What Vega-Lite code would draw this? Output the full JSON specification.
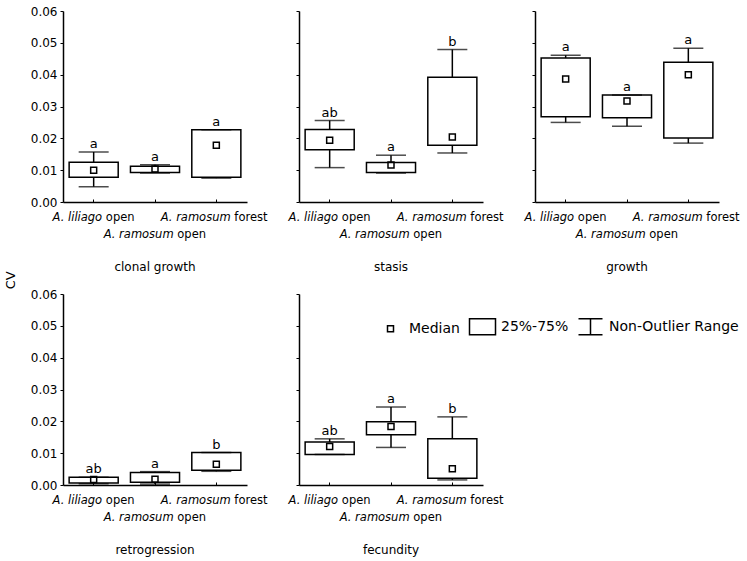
{
  "$schema": "https://vega.github.io/schema/vega-lite/v6.json",
  "background": "white",
  "padding": 5,
  "title": {"text": "CV", "orient": "left", "anchor": "middle", "fontSize": 13, "fontWeight": "normal", "font": "DejaVu Sans", "color": "black", "offset": 12},
  "datasets": {
    "box": [
      {"panel": "clonal growth", "group": "A. liliago open", "lo": 0.0048, "q1": 0.0078, "med": 0.0100, "q3": 0.0125, "hi": 0.0157, "letter": "a"},
      {"panel": "clonal growth", "group": "A. ramosum open", "lo": 0.0091, "q1": 0.0093, "med": 0.0104, "q3": 0.0112, "hi": 0.0117, "letter": "a"},
      {"panel": "clonal growth", "group": "A. ramosum forest", "lo": 0.0075, "q1": 0.0078, "med": 0.0178, "q3": 0.0227, "hi": 0.0227, "letter": "a"},
      {"panel": "stasis", "group": "A. liliago open", "lo": 0.0108, "q1": 0.0164, "med": 0.0194, "q3": 0.0228, "hi": 0.0256, "letter": "ab"},
      {"panel": "stasis", "group": "A. ramosum open", "lo": 0.0091, "q1": 0.0093, "med": 0.0116, "q3": 0.0124, "hi": 0.0147, "letter": "a"},
      {"panel": "stasis", "group": "A. ramosum forest", "lo": 0.0154, "q1": 0.0178, "med": 0.0204, "q3": 0.0392, "hi": 0.0479, "letter": "b"},
      {"panel": "growth", "group": "A. liliago open", "lo": 0.0250, "q1": 0.0268, "med": 0.0386, "q3": 0.0452, "hi": 0.0461, "letter": "a"},
      {"panel": "growth", "group": "A. ramosum open", "lo": 0.0238, "q1": 0.0265, "med": 0.0317, "q3": 0.0336, "hi": 0.0336, "letter": "a"},
      {"panel": "growth", "group": "A. ramosum forest", "lo": 0.0185, "q1": 0.0201, "med": 0.0400, "q3": 0.0439, "hi": 0.0483, "letter": "a"},
      {"panel": "retrogression", "group": "A. liliago open", "lo": 0.0004, "q1": 0.0006, "med": 0.0017, "q3": 0.0024, "hi": 0.0024, "letter": "ab"},
      {"panel": "retrogression", "group": "A. ramosum open", "lo": 0.0003, "q1": 0.0009, "med": 0.0018, "q3": 0.0039, "hi": 0.0042, "letter": "a"},
      {"panel": "retrogression", "group": "A. ramosum forest", "lo": 0.0043, "q1": 0.0046, "med": 0.0065, "q3": 0.0102, "hi": 0.0102, "letter": "b"},
      {"panel": "fecundity", "group": "A. liliago open", "lo": 0.0096, "q1": 0.0096, "med": 0.0121, "q3": 0.0135, "hi": 0.0145, "letter": "ab"},
      {"panel": "fecundity", "group": "A. ramosum open", "lo": 0.0118, "q1": 0.0158, "med": 0.0184, "q3": 0.0199, "hi": 0.0245, "letter": "a"},
      {"panel": "fecundity", "group": "A. ramosum forest", "lo": 0.0016, "q1": 0.0021, "med": 0.0051, "q3": 0.0145, "hi": 0.0214, "letter": "b"}
    ]
  },
  "data": {"name": "box"},
  "columns": 3,
  "bounds": "flush",
  "spacing": {"row": 92, "column": 52},
  "concat": [
    {
      "width": 184, "height": 191,
      "title": {"text": "clonal growth", "orient": "bottom", "offset": 22, "frame": "group"},
      "transform": [{"filter": "datum.panel == 'clonal growth'"}],
      "resolve": {"axis": {"x": "independent"}},
      "layer": [
        {"mark": {"type": "rule", "color": "black", "strokeWidth": 1.5},
         "encoding": {
           "x": {"field": "group", "type": "nominal", "sort": ["A. liliago open", "A. ramosum open", "A. ramosum forest"], "scale": {"paddingInner": 0.2, "paddingOuter": 0.1},
             "axis": {"orient": "bottom", "labelAngle": 0, "title": null, "labelFontStyle": "italic", "labelAlign": "right", "labelBaseline": "top", "labelLineHeight": 17, "labelPadding": 12, "tickSize": -3,
               "labelExpr": "datum.value == 'A. liliago open' ? 'A. liliago' : datum.value == 'A. ramosum open' ? ['', 'A. ramosum'] : 'A. ramosum'",
               "labelOffset": {"condition": [{"test": "datum.value == 'A. liliago open'", "value": 8.5}, {"test": "datum.value == 'A. ramosum open'", "value": 18.6}], "value": 14.3}}},
           "y": {"field": "lo", "type": "quantitative", "scale": {"domain": [0, 0.06], "nice": false}, "axis": {"title": null, "values": [0, 0.01, 0.02, 0.03, 0.04, 0.05, 0.06], "format": ".2f", "labels": true}},
           "y2": {"field": "hi"}}},
        {"mark": {"type": "bar", "fill": "white", "stroke": "black", "strokeWidth": 1.5},
         "encoding": {
           "x": {"field": "group", "type": "nominal", "sort": ["A. liliago open", "A. ramosum open", "A. ramosum forest"],
             "axis": {"orient": "bottom", "labelAngle": 0, "title": null, "domain": false, "ticks": false, "labelAlign": "left", "labelBaseline": "top", "labelLineHeight": 17, "labelPadding": 9,
               "labelExpr": "datum.value == 'A. liliago open' ? 'open' : datum.value == 'A. ramosum open' ? ['', 'open'] : 'forest'",
               "labelOffset": {"condition": [{"test": "datum.value == 'A. liliago open'", "value": 12.2}, {"test": "datum.value == 'A. ramosum open'", "value": 22.3}], "value": 18}}},
           "y": {"field": "q1", "type": "quantitative", "axis": {"title": null, "values": [0, 0.01, 0.02, 0.03, 0.04, 0.05, 0.06], "format": ".2f", "labels": true}},
           "y2": {"field": "q3"}}},
        {"mark": {"type": "tick", "color": "black", "size": 30, "thickness": 1.5},
         "encoding": {"x": {"field": "group", "type": "nominal", "sort": ["A. liliago open", "A. ramosum open", "A. ramosum forest"], "axis": null}, "y": {"field": "lo", "type": "quantitative", "axis": {"title": null, "values": [0, 0.01, 0.02, 0.03, 0.04, 0.05, 0.06], "format": ".2f", "labels": true}}}},
        {"mark": {"type": "tick", "color": "black", "size": 30, "thickness": 1.5},
         "encoding": {"x": {"field": "group", "type": "nominal", "sort": ["A. liliago open", "A. ramosum open", "A. ramosum forest"], "axis": null}, "y": {"field": "hi", "type": "quantitative", "axis": {"title": null, "values": [0, 0.01, 0.02, 0.03, 0.04, 0.05, 0.06], "format": ".2f", "labels": true}}}},
        {"mark": {"type": "point", "filled": false, "stroke": "black", "strokeWidth": 1.5, "size": 625, "opacity": 1},
         "encoding": {"x": {"field": "group", "type": "nominal", "sort": ["A. liliago open", "A. ramosum open", "A. ramosum forest"], "axis": null}, "y": {"field": "med", "type": "quantitative", "axis": {"title": null, "values": [0, 0.01, 0.02, 0.03, 0.04, 0.05, 0.06], "format": ".2f", "labels": true}},
           "shape": {"datum": "Median", "scale": {"domain": ["Median", "25%-75%", "Non-Outlier Range"], "range": ["M-0.24,-0.24H0.24V0.24H-0.24Z", "M-1.04,-0.64H1.04V0.64H-1.04Z", "M-0.96,-0.64H0.96M0,-0.64V0.64M-0.96,0.64H0.96"]},
             "legend": {"orient": "none", "legendX": 314, "legendY": 302, "direction": "horizontal", "columns": 3, "title": null, "symbolSize": 625, "symbolStrokeWidth": 1.5, "symbolStrokeColor": "black", "symbolFillColor": "white", "labelFontSize": 14, "labelFont": "DejaVu Sans", "labelColor": "black", "labelOffset": 5, "columnPadding": 6, "padding": 0}}}},
        {"mark": {"type": "text", "baseline": "bottom", "dy": -1, "fontSize": 13, "font": "DejaVu Sans", "color": "black"},
         "encoding": {"x": {"field": "group", "type": "nominal", "sort": ["A. liliago open", "A. ramosum open", "A. ramosum forest"], "axis": null}, "y": {"field": "hi", "type": "quantitative", "axis": {"title": null, "values": [0, 0.01, 0.02, 0.03, 0.04, 0.05, 0.06], "format": ".2f", "labels": true}}, "text": {"field": "letter"}}}
      ]
    },
    {
      "width": 184, "height": 191,
      "title": {"text": "stasis", "orient": "bottom", "offset": 22, "frame": "group"},
      "transform": [{"filter": "datum.panel == 'stasis'"}],
      "resolve": {"axis": {"x": "independent"}},
      "layer": [
        {"mark": {"type": "rule", "color": "black", "strokeWidth": 1.5},
         "encoding": {
           "x": {"field": "group", "type": "nominal", "sort": ["A. liliago open", "A. ramosum open", "A. ramosum forest"], "scale": {"paddingInner": 0.2, "paddingOuter": 0.1},
             "axis": {"orient": "bottom", "labelAngle": 0, "title": null, "labelFontStyle": "italic", "labelAlign": "right", "labelBaseline": "top", "labelLineHeight": 17, "labelPadding": 12, "tickSize": -3,
               "labelExpr": "datum.value == 'A. liliago open' ? 'A. liliago' : datum.value == 'A. ramosum open' ? ['', 'A. ramosum'] : 'A. ramosum'",
               "labelOffset": {"condition": [{"test": "datum.value == 'A. liliago open'", "value": 8.5}, {"test": "datum.value == 'A. ramosum open'", "value": 18.6}], "value": 14.3}}},
           "y": {"field": "lo", "type": "quantitative", "scale": {"domain": [0, 0.06], "nice": false}, "axis": {"title": null, "values": [0, 0.01, 0.02, 0.03, 0.04, 0.05, 0.06], "format": ".2f", "labels": false}},
           "y2": {"field": "hi"}}},
        {"mark": {"type": "bar", "fill": "white", "stroke": "black", "strokeWidth": 1.5},
         "encoding": {
           "x": {"field": "group", "type": "nominal", "sort": ["A. liliago open", "A. ramosum open", "A. ramosum forest"],
             "axis": {"orient": "bottom", "labelAngle": 0, "title": null, "domain": false, "ticks": false, "labelAlign": "left", "labelBaseline": "top", "labelLineHeight": 17, "labelPadding": 9,
               "labelExpr": "datum.value == 'A. liliago open' ? 'open' : datum.value == 'A. ramosum open' ? ['', 'open'] : 'forest'",
               "labelOffset": {"condition": [{"test": "datum.value == 'A. liliago open'", "value": 12.2}, {"test": "datum.value == 'A. ramosum open'", "value": 22.3}], "value": 18}}},
           "y": {"field": "q1", "type": "quantitative", "axis": {"title": null, "values": [0, 0.01, 0.02, 0.03, 0.04, 0.05, 0.06], "format": ".2f", "labels": false}},
           "y2": {"field": "q3"}}},
        {"mark": {"type": "tick", "color": "black", "size": 30, "thickness": 1.5},
         "encoding": {"x": {"field": "group", "type": "nominal", "sort": ["A. liliago open", "A. ramosum open", "A. ramosum forest"], "axis": null}, "y": {"field": "lo", "type": "quantitative", "axis": {"title": null, "values": [0, 0.01, 0.02, 0.03, 0.04, 0.05, 0.06], "format": ".2f", "labels": false}}}},
        {"mark": {"type": "tick", "color": "black", "size": 30, "thickness": 1.5},
         "encoding": {"x": {"field": "group", "type": "nominal", "sort": ["A. liliago open", "A. ramosum open", "A. ramosum forest"], "axis": null}, "y": {"field": "hi", "type": "quantitative", "axis": {"title": null, "values": [0, 0.01, 0.02, 0.03, 0.04, 0.05, 0.06], "format": ".2f", "labels": false}}}},
        {"mark": {"type": "point", "filled": false, "stroke": "black", "strokeWidth": 1.5, "size": 625, "opacity": 1},
         "encoding": {"x": {"field": "group", "type": "nominal", "sort": ["A. liliago open", "A. ramosum open", "A. ramosum forest"], "axis": null}, "y": {"field": "med", "type": "quantitative", "axis": {"title": null, "values": [0, 0.01, 0.02, 0.03, 0.04, 0.05, 0.06], "format": ".2f", "labels": false}},
           "shape": {"datum": "Median"}}},
        {"mark": {"type": "text", "baseline": "bottom", "dy": -1, "fontSize": 13, "font": "DejaVu Sans", "color": "black"},
         "encoding": {"x": {"field": "group", "type": "nominal", "sort": ["A. liliago open", "A. ramosum open", "A. ramosum forest"], "axis": null}, "y": {"field": "hi", "type": "quantitative", "axis": {"title": null, "values": [0, 0.01, 0.02, 0.03, 0.04, 0.05, 0.06], "format": ".2f", "labels": false}}, "text": {"field": "letter"}}}
      ]
    },
    {
      "width": 184, "height": 191,
      "title": {"text": "growth", "orient": "bottom", "offset": 22, "frame": "group"},
      "transform": [{"filter": "datum.panel == 'growth'"}],
      "resolve": {"axis": {"x": "independent"}},
      "layer": [
        {"mark": {"type": "rule", "color": "black", "strokeWidth": 1.5},
         "encoding": {
           "x": {"field": "group", "type": "nominal", "sort": ["A. liliago open", "A. ramosum open", "A. ramosum forest"], "scale": {"paddingInner": 0.2, "paddingOuter": 0.1},
             "axis": {"orient": "bottom", "labelAngle": 0, "title": null, "labelFontStyle": "italic", "labelAlign": "right", "labelBaseline": "top", "labelLineHeight": 17, "labelPadding": 12, "tickSize": -3,
               "labelExpr": "datum.value == 'A. liliago open' ? 'A. liliago' : datum.value == 'A. ramosum open' ? ['', 'A. ramosum'] : 'A. ramosum'",
               "labelOffset": {"condition": [{"test": "datum.value == 'A. liliago open'", "value": 8.5}, {"test": "datum.value == 'A. ramosum open'", "value": 18.6}], "value": 14.3}}},
           "y": {"field": "lo", "type": "quantitative", "scale": {"domain": [0, 0.06], "nice": false}, "axis": {"title": null, "values": [0, 0.01, 0.02, 0.03, 0.04, 0.05, 0.06], "format": ".2f", "labels": false}},
           "y2": {"field": "hi"}}},
        {"mark": {"type": "bar", "fill": "white", "stroke": "black", "strokeWidth": 1.5},
         "encoding": {
           "x": {"field": "group", "type": "nominal", "sort": ["A. liliago open", "A. ramosum open", "A. ramosum forest"],
             "axis": {"orient": "bottom", "labelAngle": 0, "title": null, "domain": false, "ticks": false, "labelAlign": "left", "labelBaseline": "top", "labelLineHeight": 17, "labelPadding": 9,
               "labelExpr": "datum.value == 'A. liliago open' ? 'open' : datum.value == 'A. ramosum open' ? ['', 'open'] : 'forest'",
               "labelOffset": {"condition": [{"test": "datum.value == 'A. liliago open'", "value": 12.2}, {"test": "datum.value == 'A. ramosum open'", "value": 22.3}], "value": 18}}},
           "y": {"field": "q1", "type": "quantitative", "axis": {"title": null, "values": [0, 0.01, 0.02, 0.03, 0.04, 0.05, 0.06], "format": ".2f", "labels": false}},
           "y2": {"field": "q3"}}},
        {"mark": {"type": "tick", "color": "black", "size": 30, "thickness": 1.5},
         "encoding": {"x": {"field": "group", "type": "nominal", "sort": ["A. liliago open", "A. ramosum open", "A. ramosum forest"], "axis": null}, "y": {"field": "lo", "type": "quantitative", "axis": {"title": null, "values": [0, 0.01, 0.02, 0.03, 0.04, 0.05, 0.06], "format": ".2f", "labels": false}}}},
        {"mark": {"type": "tick", "color": "black", "size": 30, "thickness": 1.5},
         "encoding": {"x": {"field": "group", "type": "nominal", "sort": ["A. liliago open", "A. ramosum open", "A. ramosum forest"], "axis": null}, "y": {"field": "hi", "type": "quantitative", "axis": {"title": null, "values": [0, 0.01, 0.02, 0.03, 0.04, 0.05, 0.06], "format": ".2f", "labels": false}}}},
        {"mark": {"type": "point", "filled": false, "stroke": "black", "strokeWidth": 1.5, "size": 625, "opacity": 1},
         "encoding": {"x": {"field": "group", "type": "nominal", "sort": ["A. liliago open", "A. ramosum open", "A. ramosum forest"], "axis": null}, "y": {"field": "med", "type": "quantitative", "axis": {"title": null, "values": [0, 0.01, 0.02, 0.03, 0.04, 0.05, 0.06], "format": ".2f", "labels": false}},
           "shape": {"datum": "Median"}}},
        {"mark": {"type": "text", "baseline": "bottom", "dy": -1, "fontSize": 13, "font": "DejaVu Sans", "color": "black"},
         "encoding": {"x": {"field": "group", "type": "nominal", "sort": ["A. liliago open", "A. ramosum open", "A. ramosum forest"], "axis": null}, "y": {"field": "hi", "type": "quantitative", "axis": {"title": null, "values": [0, 0.01, 0.02, 0.03, 0.04, 0.05, 0.06], "format": ".2f", "labels": false}}, "text": {"field": "letter"}}}
      ]
    },
    {
      "width": 184, "height": 191,
      "title": {"text": "retrogression", "orient": "bottom", "offset": 22, "frame": "group"},
      "transform": [{"filter": "datum.panel == 'retrogression'"}],
      "resolve": {"axis": {"x": "independent"}},
      "layer": [
        {"mark": {"type": "rule", "color": "black", "strokeWidth": 1.5},
         "encoding": {
           "x": {"field": "group", "type": "nominal", "sort": ["A. liliago open", "A. ramosum open", "A. ramosum forest"], "scale": {"paddingInner": 0.2, "paddingOuter": 0.1},
             "axis": {"orient": "bottom", "labelAngle": 0, "title": null, "labelFontStyle": "italic", "labelAlign": "right", "labelBaseline": "top", "labelLineHeight": 17, "labelPadding": 12, "tickSize": -3,
               "labelExpr": "datum.value == 'A. liliago open' ? 'A. liliago' : datum.value == 'A. ramosum open' ? ['', 'A. ramosum'] : 'A. ramosum'",
               "labelOffset": {"condition": [{"test": "datum.value == 'A. liliago open'", "value": 8.5}, {"test": "datum.value == 'A. ramosum open'", "value": 18.6}], "value": 14.3}}},
           "y": {"field": "lo", "type": "quantitative", "scale": {"domain": [0, 0.06], "nice": false}, "axis": {"title": null, "values": [0, 0.01, 0.02, 0.03, 0.04, 0.05, 0.06], "format": ".2f", "labels": true}},
           "y2": {"field": "hi"}}},
        {"mark": {"type": "bar", "fill": "white", "stroke": "black", "strokeWidth": 1.5},
         "encoding": {
           "x": {"field": "group", "type": "nominal", "sort": ["A. liliago open", "A. ramosum open", "A. ramosum forest"],
             "axis": {"orient": "bottom", "labelAngle": 0, "title": null, "domain": false, "ticks": false, "labelAlign": "left", "labelBaseline": "top", "labelLineHeight": 17, "labelPadding": 9,
               "labelExpr": "datum.value == 'A. liliago open' ? 'open' : datum.value == 'A. ramosum open' ? ['', 'open'] : 'forest'",
               "labelOffset": {"condition": [{"test": "datum.value == 'A. liliago open'", "value": 12.2}, {"test": "datum.value == 'A. ramosum open'", "value": 22.3}], "value": 18}}},
           "y": {"field": "q1", "type": "quantitative", "axis": {"title": null, "values": [0, 0.01, 0.02, 0.03, 0.04, 0.05, 0.06], "format": ".2f", "labels": true}},
           "y2": {"field": "q3"}}},
        {"mark": {"type": "tick", "color": "black", "size": 30, "thickness": 1.5},
         "encoding": {"x": {"field": "group", "type": "nominal", "sort": ["A. liliago open", "A. ramosum open", "A. ramosum forest"], "axis": null}, "y": {"field": "lo", "type": "quantitative", "axis": {"title": null, "values": [0, 0.01, 0.02, 0.03, 0.04, 0.05, 0.06], "format": ".2f", "labels": true}}}},
        {"mark": {"type": "tick", "color": "black", "size": 30, "thickness": 1.5},
         "encoding": {"x": {"field": "group", "type": "nominal", "sort": ["A. liliago open", "A. ramosum open", "A. ramosum forest"], "axis": null}, "y": {"field": "hi", "type": "quantitative", "axis": {"title": null, "values": [0, 0.01, 0.02, 0.03, 0.04, 0.05, 0.06], "format": ".2f", "labels": true}}}},
        {"mark": {"type": "point", "filled": false, "stroke": "black", "strokeWidth": 1.5, "size": 625, "opacity": 1},
         "encoding": {"x": {"field": "group", "type": "nominal", "sort": ["A. liliago open", "A. ramosum open", "A. ramosum forest"], "axis": null}, "y": {"field": "med", "type": "quantitative", "axis": {"title": null, "values": [0, 0.01, 0.02, 0.03, 0.04, 0.05, 0.06], "format": ".2f", "labels": true}},
           "shape": {"datum": "Median"}}},
        {"mark": {"type": "text", "baseline": "bottom", "dy": -1, "fontSize": 13, "font": "DejaVu Sans", "color": "black"},
         "encoding": {"x": {"field": "group", "type": "nominal", "sort": ["A. liliago open", "A. ramosum open", "A. ramosum forest"], "axis": null}, "y": {"field": "hi", "type": "quantitative", "axis": {"title": null, "values": [0, 0.01, 0.02, 0.03, 0.04, 0.05, 0.06], "format": ".2f", "labels": true}}, "text": {"field": "letter"}}}
      ]
    },
    {
      "width": 184, "height": 191,
      "title": {"text": "fecundity", "orient": "bottom", "offset": 22, "frame": "group"},
      "transform": [{"filter": "datum.panel == 'fecundity'"}],
      "resolve": {"axis": {"x": "independent"}},
      "layer": [
        {"mark": {"type": "rule", "color": "black", "strokeWidth": 1.5},
         "encoding": {
           "x": {"field": "group", "type": "nominal", "sort": ["A. liliago open", "A. ramosum open", "A. ramosum forest"], "scale": {"paddingInner": 0.2, "paddingOuter": 0.1},
             "axis": {"orient": "bottom", "labelAngle": 0, "title": null, "labelFontStyle": "italic", "labelAlign": "right", "labelBaseline": "top", "labelLineHeight": 17, "labelPadding": 12, "tickSize": -3,
               "labelExpr": "datum.value == 'A. liliago open' ? 'A. liliago' : datum.value == 'A. ramosum open' ? ['', 'A. ramosum'] : 'A. ramosum'",
               "labelOffset": {"condition": [{"test": "datum.value == 'A. liliago open'", "value": 8.5}, {"test": "datum.value == 'A. ramosum open'", "value": 18.6}], "value": 14.3}}},
           "y": {"field": "lo", "type": "quantitative", "scale": {"domain": [0, 0.06], "nice": false}, "axis": {"title": null, "values": [0, 0.01, 0.02, 0.03, 0.04, 0.05, 0.06], "format": ".2f", "labels": false}},
           "y2": {"field": "hi"}}},
        {"mark": {"type": "bar", "fill": "white", "stroke": "black", "strokeWidth": 1.5},
         "encoding": {
           "x": {"field": "group", "type": "nominal", "sort": ["A. liliago open", "A. ramosum open", "A. ramosum forest"],
             "axis": {"orient": "bottom", "labelAngle": 0, "title": null, "domain": false, "ticks": false, "labelAlign": "left", "labelBaseline": "top", "labelLineHeight": 17, "labelPadding": 9,
               "labelExpr": "datum.value == 'A. liliago open' ? 'open' : datum.value == 'A. ramosum open' ? ['', 'open'] : 'forest'",
               "labelOffset": {"condition": [{"test": "datum.value == 'A. liliago open'", "value": 12.2}, {"test": "datum.value == 'A. ramosum open'", "value": 22.3}], "value": 18}}},
           "y": {"field": "q1", "type": "quantitative", "axis": {"title": null, "values": [0, 0.01, 0.02, 0.03, 0.04, 0.05, 0.06], "format": ".2f", "labels": false}},
           "y2": {"field": "q3"}}},
        {"mark": {"type": "tick", "color": "black", "size": 30, "thickness": 1.5},
         "encoding": {"x": {"field": "group", "type": "nominal", "sort": ["A. liliago open", "A. ramosum open", "A. ramosum forest"], "axis": null}, "y": {"field": "lo", "type": "quantitative", "axis": {"title": null, "values": [0, 0.01, 0.02, 0.03, 0.04, 0.05, 0.06], "format": ".2f", "labels": false}}}},
        {"mark": {"type": "tick", "color": "black", "size": 30, "thickness": 1.5},
         "encoding": {"x": {"field": "group", "type": "nominal", "sort": ["A. liliago open", "A. ramosum open", "A. ramosum forest"], "axis": null}, "y": {"field": "hi", "type": "quantitative", "axis": {"title": null, "values": [0, 0.01, 0.02, 0.03, 0.04, 0.05, 0.06], "format": ".2f", "labels": false}}}},
        {"mark": {"type": "point", "filled": false, "stroke": "black", "strokeWidth": 1.5, "size": 625, "opacity": 1},
         "encoding": {"x": {"field": "group", "type": "nominal", "sort": ["A. liliago open", "A. ramosum open", "A. ramosum forest"], "axis": null}, "y": {"field": "med", "type": "quantitative", "axis": {"title": null, "values": [0, 0.01, 0.02, 0.03, 0.04, 0.05, 0.06], "format": ".2f", "labels": false}},
           "shape": {"datum": "Median"}}},
        {"mark": {"type": "text", "baseline": "bottom", "dy": -1, "fontSize": 13, "font": "DejaVu Sans", "color": "black"},
         "encoding": {"x": {"field": "group", "type": "nominal", "sort": ["A. liliago open", "A. ramosum open", "A. ramosum forest"], "axis": null}, "y": {"field": "hi", "type": "quantitative", "axis": {"title": null, "values": [0, 0.01, 0.02, 0.03, 0.04, 0.05, 0.06], "format": ".2f", "labels": false}}, "text": {"field": "letter"}}}
      ]
    }
  ],
  "config": {
    "view": {"stroke": null},
    "font": "DejaVu Sans",
    "axis": {"grid": false, "domainColor": "black", "domainWidth": 1.5, "tickColor": "black", "tickWidth": 1, "tickSize": 3, "labelColor": "black", "labelFont": "DejaVu Sans", "labelFontSize": 11.5, "labelOverlap": false, "labelBound": false, "labelLimit": 300},
    "axisY": {"labelFontSize": 12, "labelPadding": 3},
    "title": {"font": "DejaVu Sans", "fontSize": 12, "fontWeight": "normal", "color": "black", "anchor": "middle"}
  }
}
